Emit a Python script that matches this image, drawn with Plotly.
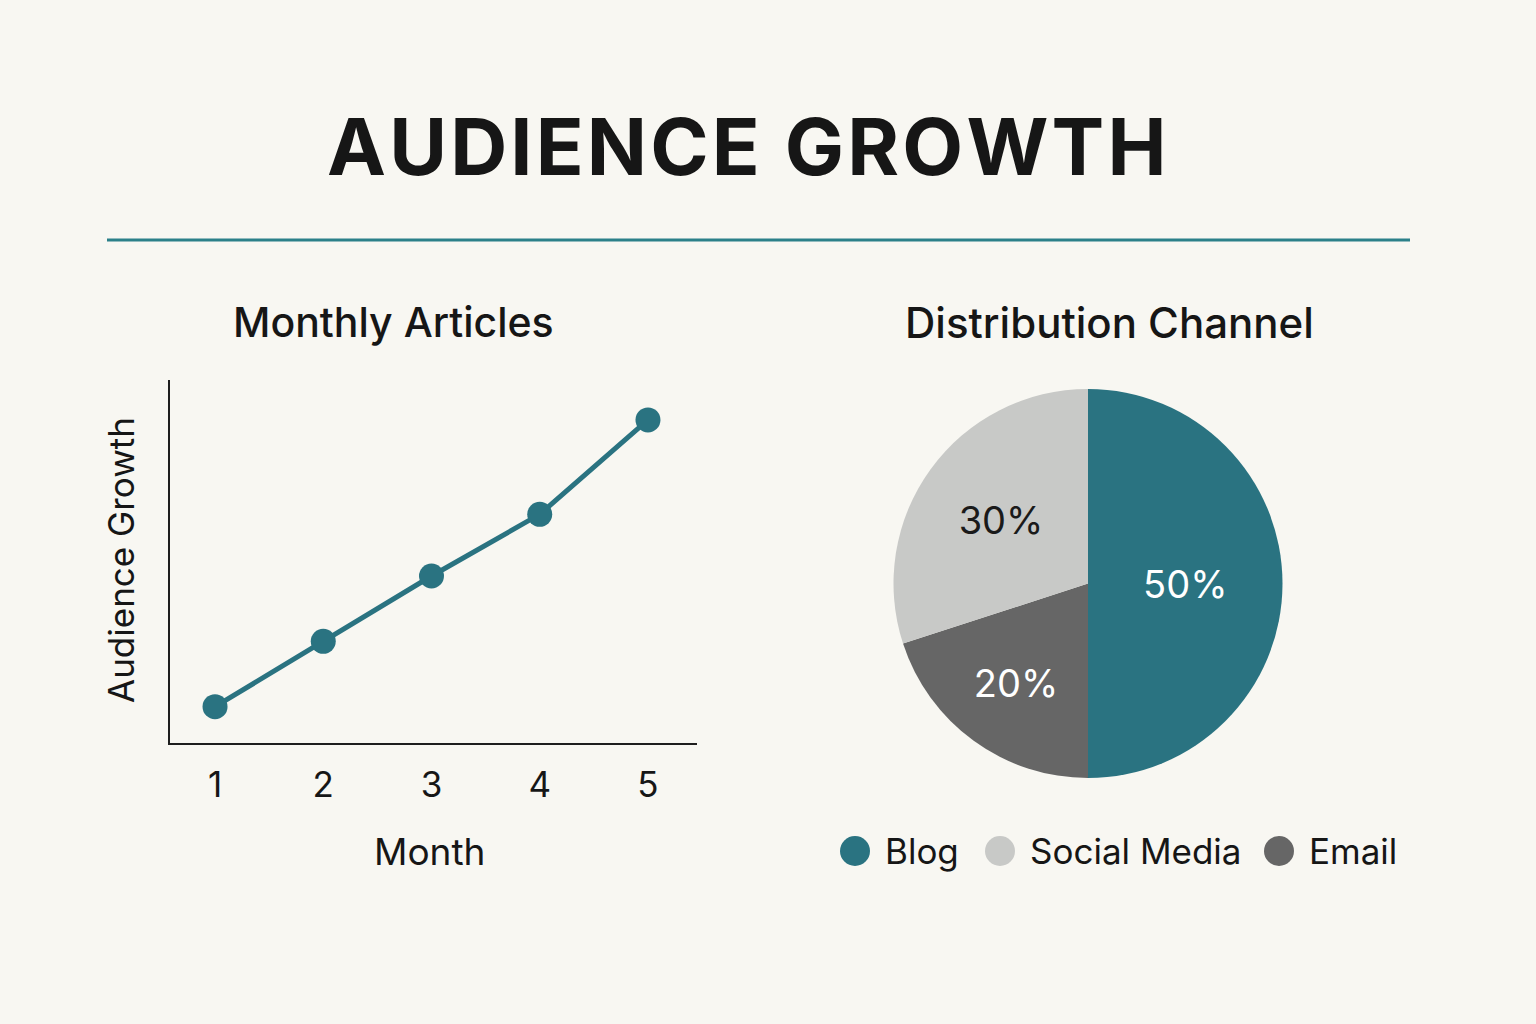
import plotly.graph_objects as go

# ---- data ----
months = [1, 2, 3, 4, 5]
audience_growth = [10, 28, 46, 63, 89]

channels = ["Blog", "Email", "Social Media"]          # clockwise slice order
channel_share = [50, 20, 30]
legend_order = ["Blog", "Social Media", "Email"]

title_text = "AUDIENCE GROWTH"
left_title = "Monthly Articles"
right_title = "Distribution Channel"

# ---- styles ----
W, H = 1536, 1024
BG = "#f8f7f2"
TEAL = "#2a7381"
LINE_TEAL = "#2b8089"
LIGHT = "#c8c9c7"
DARK = "#666666"
INK = "#161616"
FONT = "Inter"
colors = {"Blog": TEAL, "Social Media": LIGHT, "Email": DARK}
text_colors = {"Blog": "#ffffff", "Social Media": "#1a1a1a", "Email": "#ffffff"}

def px(x):
    return x / W

def py(y):
    return 1 - y / H

def spaced(s, sep='<span style="font-size:40px">\u200a</span>'):
    return sep.join(list(s))

fig = go.Figure()

fig.add_trace(go.Scatter(
    x=months, y=audience_growth, mode="lines+markers",
    line=dict(color=TEAL, width=5),
    marker=dict(color=TEAL, size=25),
    showlegend=False, hoverinfo="skip",
))

fig.add_trace(go.Pie(
    labels=channels, values=channel_share, sort=False, direction="clockwise",
    rotation=0,
    marker=dict(colors=[colors[c] for c in channels], line=dict(width=0)),
    texttemplate="%{value}%", textposition="inside",
    insidetextfont=dict(family=FONT, size=38, color=[text_colors[c] for c in channels]),
    domain=dict(x=[px(893), px(1283)], y=[py(778), py(389)]),
    showlegend=False, hoverinfo="skip",
))

fig.update_layout(
    width=W, height=H,
    margin=dict(l=0, r=0, t=0, b=0),
    paper_bgcolor=BG, plot_bgcolor=BG,
    font=dict(family=FONT, color=INK),
    xaxis=dict(
        domain=[px(170), px(697)], range=[0.584, 5.453],
        showline=True, linecolor="#1e1e1e", linewidth=2,
        showgrid=False, zeroline=False,
        tickvals=months, ticktext=[str(m) for m in months],
        ticks="outside", ticklen=10, tickcolor=BG,
        tickfont=dict(size=35, color=INK, family=FONT),
        fixedrange=True,
    ),
    yaxis=dict(
        domain=[py(743), py(380)], range=[0, 100],
        showline=True, linecolor="#1e1e1e", linewidth=2,
        showgrid=False, zeroline=False, showticklabels=False, ticks="",
        fixedrange=True,
    ),
)

annotations = [
    dict(text=f"<b>{spaced(title_text)}</b>", x=px(746), y=py(146), xref="paper", yref="paper",
         showarrow=False, xanchor="center", yanchor="middle",
         font=dict(size=79, family=FONT, color=INK)),
    dict(text=left_title, x=px(393), y=py(322), xref="paper", yref="paper",
         showarrow=False, xanchor="center", yanchor="middle",
         font=dict(size=41, family=FONT, color=INK, weight=500)),
    dict(text=right_title, x=px(1109), y=py(322), xref="paper", yref="paper",
         showarrow=False, xanchor="center", yanchor="middle",
         font=dict(size=42, family=FONT, color=INK, weight=500)),
    dict(text="Audience Growth", x=px(121), y=py(560), xref="paper", yref="paper",
         showarrow=False, xanchor="center", yanchor="middle", textangle=-90,
         font=dict(size=35, family=FONT, color=INK)),
    dict(text="Month", x=px(429), y=py(851), xref="paper", yref="paper",
         showarrow=False, xanchor="center", yanchor="middle",
         font=dict(size=37, family=FONT, color=INK)),
]

shapes = [
    dict(type="line", xref="paper", yref="paper", x0=px(107), x1=px(1410),
         y0=py(240), y1=py(240), line=dict(color=LINE_TEAL, width=3)),
]

# custom legend
legend_x = {"Blog": 855, "Social Media": 1000, "Email": 1279}
legend_y = 851
r = 15
for name in legend_order:
    cx = legend_x[name]
    shapes.append(dict(type="circle", xref="paper", yref="paper",
                       x0=px(cx - r), x1=px(cx + r), y0=py(legend_y + r), y1=py(legend_y - r),
                       fillcolor=colors[name], line=dict(width=0)))
    annotations.append(dict(text=name, x=px(cx + r + 13), y=py(legend_y), xref="paper", yref="paper",
                            showarrow=False, xanchor="left", yanchor="middle",
                            font=dict(size=35, family=FONT, color=INK)))

fig.update_layout(annotations=annotations, shapes=shapes)

fig.write_html("out.html")
